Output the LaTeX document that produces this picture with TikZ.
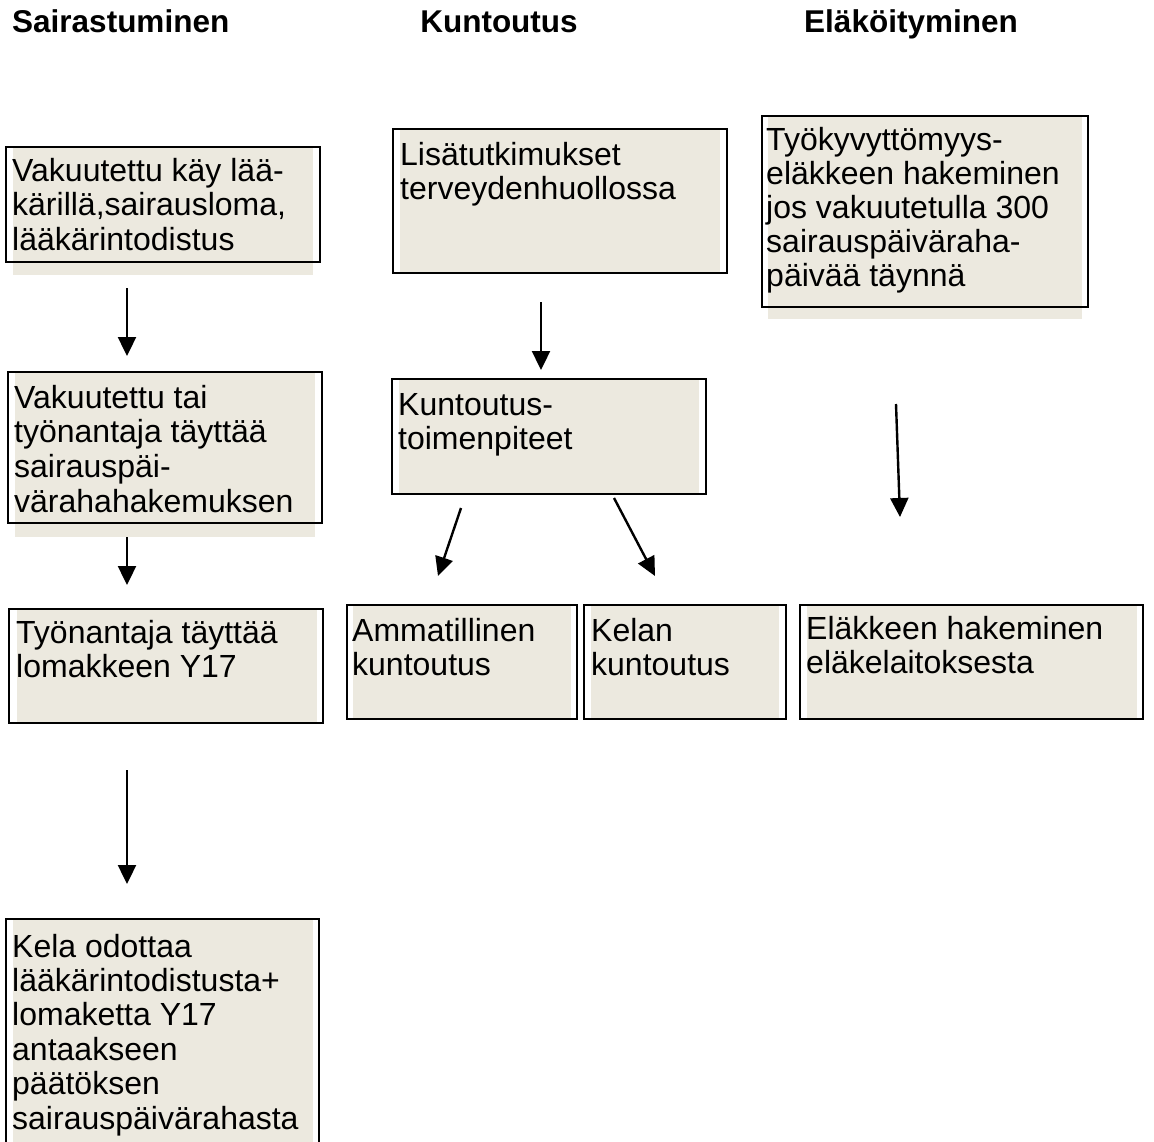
\documentclass[tikz,border=0pt]{standalone}
\usepackage{fontspec}
\setmainfont{Liberation Sans}
\usetikzlibrary{arrows.meta}
\definecolor{boxfill}{RGB}{236,233,223}
\begin{document}
\begin{tikzpicture}[x=1pt,y=-1pt,
  outline/.style={draw=black,line width=1.4pt},
  shadefill/.style={fill=boxfill},
  txt/.style={anchor=north west,inner sep=0pt,align=left,font=\fontsize{32}{34.8}\selectfont,yshift=-3pt},
  head/.style={anchor=base,inner sep=0pt,font=\bfseries\fontsize{31.5}{36}\selectfont},
  arr/.style={line width=2.4pt,-{Triangle[length=19pt,width=18pt]}}]
\useasboundingbox[fill=white] (0,0) rectangle (1154,1142);

% headings
\node[head,anchor=base west] (h1) at (12,33) {Sairastuminen};
\node[head] (h2) at (499,33) {Kuntoutus};
\node[head] (h3) at (911,33) {Eläköityminen};

% fills
\fill[shadefill] (13,148) rectangle (313,275);
\fill[shadefill] (15,373) rectangle (315,537);
\fill[shadefill] (17,610) rectangle (317,722);
\fill[shadefill] (13,920) rectangle (313,1142);
\fill[shadefill] (400,130) rectangle (720,272);
\fill[shadefill] (399,380) rectangle (699,493);
\fill[shadefill] (353,606) rectangle (571,718);
\fill[shadefill] (591,606) rectangle (779,718);
\fill[shadefill] (768,117) rectangle (1082,319);
\fill[shadefill] (807,606) rectangle (1137,718);

% outlines
\draw[outline] (6,147) rectangle (320,262);
\draw[outline] (8,372) rectangle (322,523);
\draw[outline] (9,609) rectangle (323,723);
\draw[outline] (6,1142) -- (6,919) -- (319,919) -- (319,1142);
\draw[outline] (393,129) rectangle (727,273);
\draw[outline] (392,379) rectangle (706,494);
\draw[outline] (347,605) rectangle (577,719);
\draw[outline] (584,605) rectangle (786,719);
\draw[outline] (762,116) rectangle (1088,307);
\draw[outline] (800,605) rectangle (1143,719);

% texts
\node[txt] (t1) at (12,153.6) {\strut Vakuutettu käy lää-\\\strut kärillä,sairausloma,\\\strut lääkärintodistus};
\node[txt] (t2) at (14,380.6) {\strut Vakuutettu tai\\\strut työnantaja täyttää\\\strut sairauspäi-\\\strut värahahakemuksen};
\node[txt] (t3) at (16,615.6) {\strut Työnantaja täyttää\\\strut lomakkeen Y17};
\node[txt,font=\fontsize{32}{34.4}\selectfont] (t4) at (12,929.9) {\strut Kela odottaa\\\strut lääkärintodistusta+\\\strut lomaketta Y17\\\strut antaakseen\\\strut päätöksen\\\strut sairauspäivärahasta};
\node[txt] (t5) at (400,137.6) {\strut Lisätutkimukset\\\strut terveydenhuollossa};
\node[txt] (t6) at (398,387.6) {\strut Kuntoutus-\\\strut toimenpiteet};
\node[txt] (t7) at (352,613.6) {\strut Ammatillinen\\\strut kuntoutus};
\node[txt] (t8) at (591,613.6) {\strut Kelan\\\strut kuntoutus};
\node[txt,font=\fontsize{32}{34}\selectfont] (t9) at (766,123.2) {\strut Työkyvyttömyys-\\\strut eläkkeen hakeminen\\\strut jos vakuutetulla 300\\\strut sairauspäiväraha-\\\strut päivää täynnä};
\node[txt] (t10) at (806,611.6) {\strut Eläkkeen hakeminen\\\strut eläkelaitoksesta};

% arrow ends
\coordinate (a1s) at (127,288); \coordinate (a1e) at (127,356);
\coordinate (a2s) at (127,537); \coordinate (a2e) at (127,585);
\coordinate (a3s) at (127,770); \coordinate (a3e) at (127,884);
\coordinate (a4s) at (541,302); \coordinate (a4e) at (541,370);
\coordinate (a5s) at (461,508); \coordinate (a5e) at (438,576);
\coordinate (a6s) at (614,498); \coordinate (a6e) at (655,576);
\coordinate (a7s) at (896,404); \coordinate (a7e) at (900,517);

\draw[arr] (a1s) -- (a1e);
\draw[arr] (a2s) -- (a2e);
\draw[arr] (a3s) -- (a3e);
\draw[arr] (a4s) -- (a4e);
\draw[arr] (a5s) -- (a5e);
\draw[arr] (a6s) -- (a6e);
\draw[arr] (a7s) -- (a7e);
\end{tikzpicture}
\end{document}
